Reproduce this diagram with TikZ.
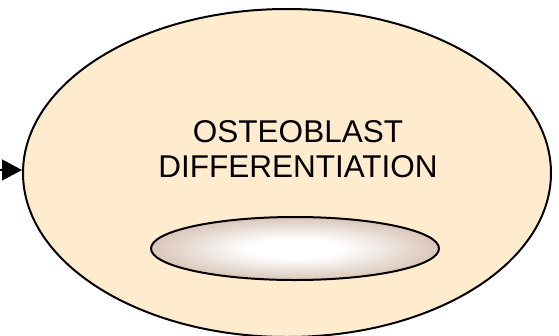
\documentclass[tikz,border=0pt]{standalone}
\usepackage{fontspec}
\setmainfont{Liberation Sans}
\usetikzlibrary{shapes.geometric,arrows.meta}
\definecolor{almond}{RGB}{255,235,205}
\definecolor{cellbrown}{RGB}{198,168,148}
\pgfdeclareradialshading{nucleusshade}{\pgfpoint{0bp}{0bp}}{color(0bp)=(white); color(8bp)=(white); color(34bp)=(cellbrown); color(50bp)=(cellbrown)}
\tikzset{
  cell/.style={ellipse, draw=black, line width=2pt, fill=almond, inner sep=0pt},
  nucleus/.style={ellipse, draw=black, line width=2pt, shading=nucleusshade, inner sep=0pt},
  label/.style={font=\fontsize{31.5}{35}\selectfont, align=center, inner sep=0pt},
  link/.style={line width=1.5pt, -{Triangle[length=20pt,width=21pt]}}
}
\begin{document}
\begin{tikzpicture}[x=1pt,y=-1pt]
\useasboundingbox (0,0) rectangle (559,335);
\node[cell, minimum width=528pt, minimum height=328pt] (big) at (287,173) {};
\node[nucleus, minimum width=288pt, minimum height=63pt] (nuc) at (295,248.5) {};
\node[label] (txt) at (298,149) {OSTEOBLAST\\DIFFERENTIATION};
\coordinate (src) at (0,170);
\draw[link] (src) -- (big.west |- src);
\end{tikzpicture}
\end{document}
